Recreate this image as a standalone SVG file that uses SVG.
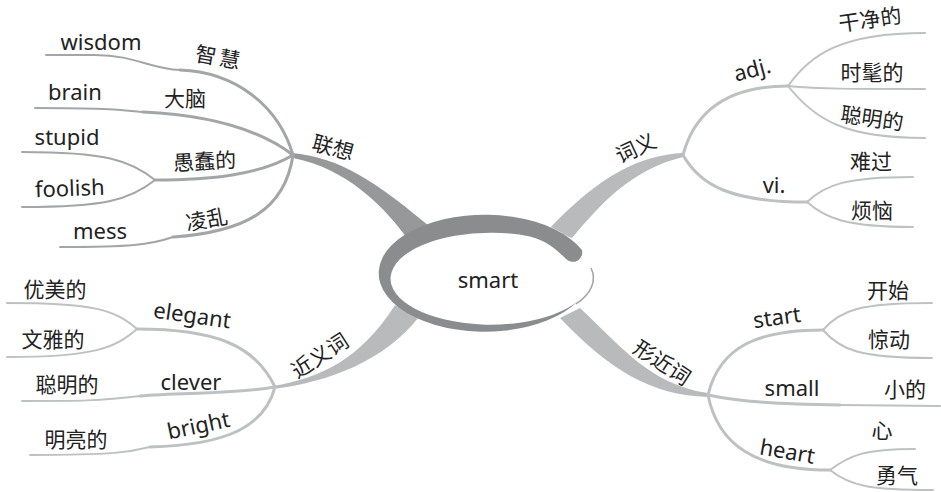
<svg xmlns="http://www.w3.org/2000/svg" width="941" height="492" viewBox="0 0 941 492">
<style>
.bg{fill:#ffffff}
.mb{fill:#b9babc}
.mbd{fill:#97989a}
.sb{fill:none;stroke:#bfc0c2;stroke-width:3;stroke-linecap:round}
.lf{fill:none;stroke:#bfc0c2;stroke-width:2;stroke-linecap:round}
.sbd{fill:none;stroke:#a4a5a7;stroke-width:3;stroke-linecap:round}
.lfd{fill:none;stroke:#a4a5a7;stroke-width:2;stroke-linecap:round}
text{font-family:"Noto Sans","Noto Sans CJK SC",sans-serif;font-size:21px;fill:#222;text-anchor:middle}
.en{font-size:22px}
</style>
<rect class="bg" x="0" y="0" width="941" height="492"/>
<g id="connectors">
  <!-- main branches -->
  <path class="mbd" d="M293,153 C340,158 375,180 436,232 L414,248 C385,205 345,168 293,158 Z"/>
  <path class="mb" d="M683,153 C640,155 600,175 548,230 L572,238 C600,205 630,170 683,157 Z"/>
  <path class="mb" d="M273,386 C320,378 360,360 395,305 L418,318 C385,360 330,382 273,389 Z"/>
  <path class="mb" d="M580,308 C620,345 650,385 708,393 L708,397 C650,395 610,370 560,318 Z"/>
  <!-- 联想 group -->
  <path class="sbd" d="M293,155 C278,105 235,72 180,70"/>
  <path class="lfd" d="M180,70 C150,69 135,55 95,55 L46,55"/>
  <path class="sbd" d="M293,155 C260,130 210,115 143,112"/>
  <path class="lfd" d="M143,112 C120,110 110,108 35,108"/>
  <path class="sbd" d="M293,155 C260,175 210,180 155,180"/>
  <path class="lfd" d="M155,180 C130,160 105,152 22,152"/>
  <path class="lfd" d="M155,180 C130,200 105,207 22,207"/>
  <path class="sbd" d="M293,155 C285,210 245,232 173,237"/>
  <path class="lfd" d="M173,237 C150,245 130,247 60,247"/>
  <!-- 词义 group -->
  <path class="sb" d="M683,155 C695,110 730,86 788,86"/>
  <path class="lf" d="M788,86 C810,55 840,33 925,33"/>
  <path class="lf" d="M788,86 C820,89 850,89 925,89"/>
  <path class="lf" d="M788,86 C815,120 845,138 925,138"/>
  <path class="sb" d="M683,155 C700,185 730,202 807,202"/>
  <path class="lf" d="M807,202 C825,185 845,177 913,177"/>
  <path class="lf" d="M807,202 C825,218 845,227 913,227"/>
  <!-- 近义词 group -->
  <path class="sb" d="M275,387 C255,345 215,329 137,329"/>
  <path class="lf" d="M137,329 C115,310 95,303 7,303"/>
  <path class="lf" d="M137,329 C115,348 95,357 7,357"/>
  <path class="sb" d="M275,387 C230,395 180,392 140,396"/>
  <path class="lf" d="M140,396 C100,401 80,401 22,401"/>
  <path class="sb" d="M275,387 C265,425 230,445 150,447"/>
  <path class="lf" d="M150,447 C130,452 115,455 30,455"/>
  <!-- 形近词 group -->
  <path class="sb" d="M708,395 C720,345 760,330 823,330"/>
  <path class="lf" d="M823,330 C840,310 860,303 932,303"/>
  <path class="lf" d="M823,330 C840,350 860,358 932,358"/>
  <path class="sb" d="M708,395 C740,402 780,404 840,405"/>
  <path class="lf" d="M840,405 L940,406"/>
  <path class="sb" d="M708,395 C718,445 755,470 830,470"/>
  <path class="lf" d="M830,470 C850,455 865,449 915,449"/>
  <path class="lf" d="M830,470 C850,486 870,490 933,490"/>
</g>
<g id="center">
  <ellipse cx="486" cy="273.5" rx="106" ry="58.5" fill="#ffffff"/>
  <path fill="#8b8c8e" d="M582,250 A106,58.5 0 1 0 578,301 A100,46 0 1 1 530,236.4 C548,241 558,251 566,259 A9.5,9.5 0 0 0 582,250 Z"/>
  <path d="M576,304 A100,46 0 0 0 591,268" fill="none" stroke="#a0a1a3" stroke-width="1.5"/>
  <text class="en" x="488" y="288">smart</text>
</g>
<g id="n-lianxiang"><text transform="translate(331,155) rotate(15)">联想</text></g>
<g id="n-wisdom"><text class="en" x="101" y="50">wisdom</text></g>
<g id="n-zhihui"><text transform="translate(218,65) rotate(10)" letter-spacing="3">智慧</text></g>
<g id="n-brain"><text class="en" x="75" y="100">brain</text></g>
<g id="n-danao"><text x="185" y="106">大脑</text></g>
<g id="n-stupid"><text class="en" x="67" y="145">stupid</text></g>
<g id="n-yuchun"><text transform="translate(205,169) rotate(-3)">愚蠢的</text></g>
<g id="n-foolish"><text class="en" transform="translate(70,196) rotate(-2)">foolish</text></g>
<g id="n-lingluan"><text transform="translate(208,227) rotate(-10)">凌乱</text></g>
<g id="n-mess"><text class="en" x="100" y="239">mess</text></g>
<g id="n-ciyi"><text transform="translate(639,155) rotate(-25)">词义</text></g>
<g id="n-adj"><text class="en" transform="translate(754,77) rotate(-15)">adj.</text></g>
<g id="n-ganjing"><text transform="translate(871,27) rotate(-8)">干净的</text></g>
<g id="n-shimao"><text x="872" y="80">时髦的</text></g>
<g id="n-congming1"><text transform="translate(871,126) rotate(8)">聪明的</text></g>
<g id="n-vi"><text class="en" x="774" y="193">vi.</text></g>
<g id="n-nanguo"><text x="871" y="169">难过</text></g>
<g id="n-fannao"><text x="872" y="218">烦恼</text></g>
<g id="n-jinyici"><text transform="translate(324,362) rotate(-33)">近义词</text></g>
<g id="n-elegant"><text class="en" transform="translate(191,323) rotate(8)">elegant</text></g>
<g id="n-youmei"><text x="55" y="297">优美的</text></g>
<g id="n-wenya"><text x="53" y="347">文雅的</text></g>
<g id="n-clever"><text class="en" x="191" y="390">clever</text></g>
<g id="n-congming2"><text x="67" y="392">聪明的</text></g>
<g id="n-bright"><text class="en" transform="translate(200,433) rotate(-12)">bright</text></g>
<g id="n-mingliang"><text x="76" y="447">明亮的</text></g>
<g id="n-xingjinci"><text transform="translate(658,369) rotate(33)">形近词</text></g>
<g id="n-start"><text class="en" transform="translate(778,325) rotate(-8)">start</text></g>
<g id="n-kaishi"><text x="888" y="298">开始</text></g>
<g id="n-jingdong"><text x="889" y="347">惊动</text></g>
<g id="n-small"><text class="en" x="792" y="396">small</text></g>
<g id="n-xiaode"><text x="905" y="397">小的</text></g>
<g id="n-heart"><text class="en" transform="translate(786,459) rotate(10)">heart</text></g>
<g id="n-xin"><text x="882" y="438">心</text></g>
<g id="n-yongqi"><text x="897" y="483">勇气</text></g>
</svg>
